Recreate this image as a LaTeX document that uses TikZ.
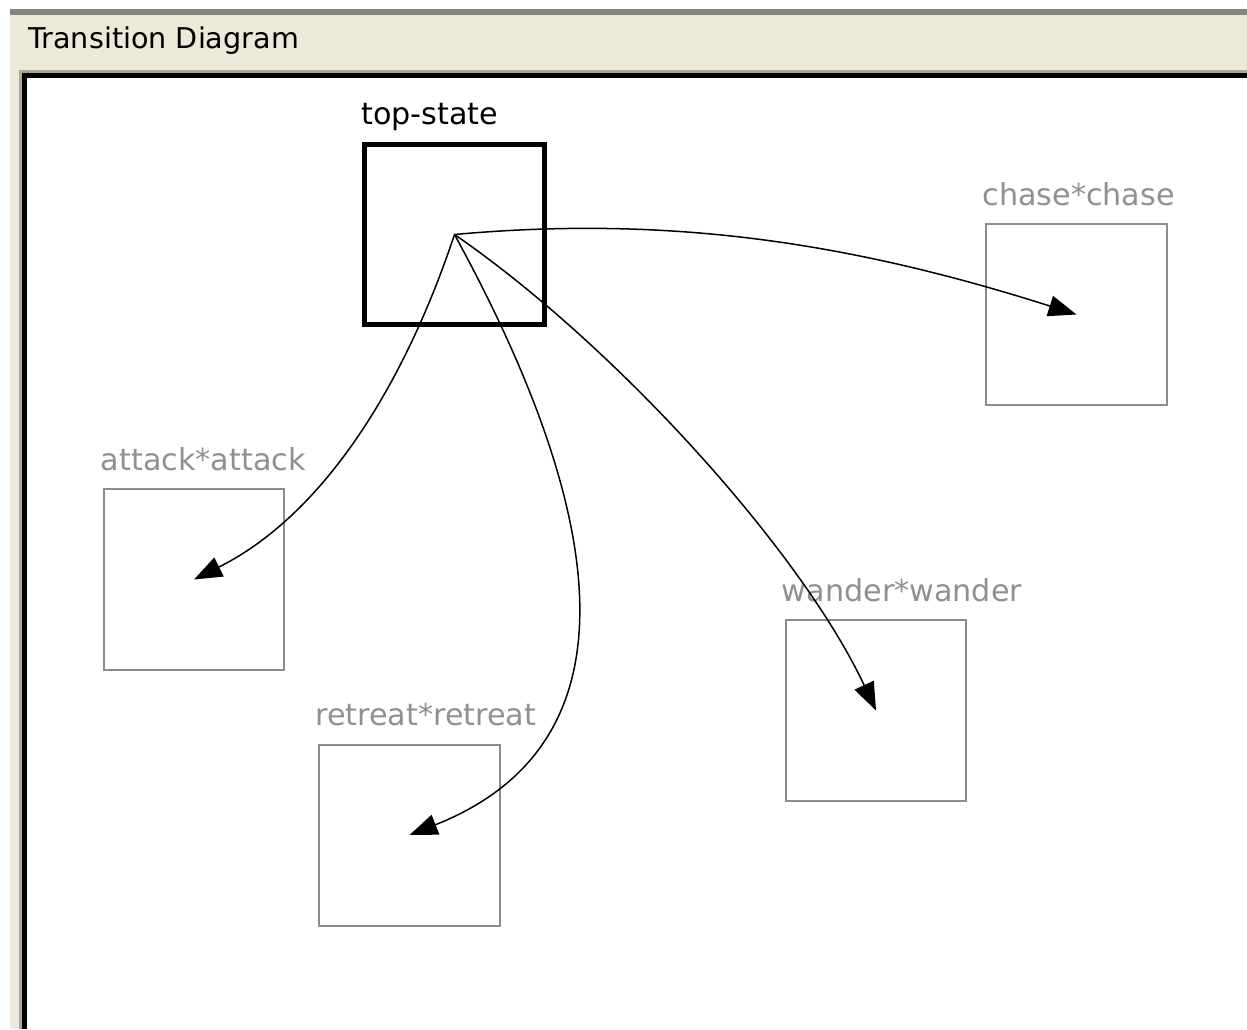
\documentclass[tikz,border=0pt]{standalone}
\usepackage{fontspec}
\setmainfont{DejaVu Sans}
\usetikzlibrary{arrows.meta}
\definecolor{winbg}{HTML}{ECE9D8}
\definecolor{winline}{HTML}{86847A}
\definecolor{winedge}{HTML}{ACA899}
\definecolor{stategrey}{HTML}{8C8C8C}
\definecolor{labelgrey}{HTML}{909090}

\begin{document}
\begin{tikzpicture}[
  x=0.02cm, y=-0.02cm,
  >={Triangle[length=0.56cm,width=0.42cm]},
  wintext/.style={font=\fontsize{16.3}{18}\selectfont,inner sep=0pt},
  lbltext/.style={font=\fontsize{17.2}{19}\selectfont,inner sep=0pt,anchor=base west},
  topbox/.style={draw=black,line width=0.1cm,minimum size=3.6cm,inner sep=0pt},
  statebox/.style={draw=stategrey,line width=0.04cm,minimum size=3.62cm,inner sep=0pt},
  statelbl/.style={lbltext,text=labelgrey},
  trans/.style={->,line width=0.03cm},
]
\useasboundingbox (0,0) rectangle (1247,1029);

% Window frame
\fill[winbg] (10,9) rectangle (1247,1029);
\fill[winline] (10,9) rectangle (1247,15);
\fill[winedge] (19,70) rectangle (1247,1029);
\fill[black] (22,73) rectangle (1247,1029);
\fill[white] (27,78) rectangle (1247,1029);
\node[wintext,anchor=base west] (title) at (28,48) {Transition Diagram};

% States
\node[topbox] (top) at (454.5,234.5) {};
\node[statebox] (chase) at (1076.5,314.5) {};
\node[statebox] (attack) at (194,579.5) {};
\node[statebox] (retreat) at (409.5,835) {};
\node[statebox] (wander) at (876,710.5) {};

% State names
\node[lbltext] (topL) at ([shift={(-1,-18)}]top.north west) {top-state};
\node[statelbl] (chaseL) at ([shift={(-3,-18)}]chase.north west) {chase*chase};
\node[statelbl] (attackL) at ([shift={(-2,-18)}]attack.north west) {attack*attack};
\node[statelbl] (retreatL) at ([shift={(-3,-18)}]retreat.north west) {retreat*retreat};
\node[statelbl] (wanderL) at ([shift={(-3,-18)}]wander.north west) {wander*wander};

% Transitions
\draw[trans] (top.center) .. controls +(220,-20) and +(-220,-70) .. (chase.center);
\draw[trans] (top.center) .. controls +(-50,150) and +(130,-65) .. (attack.center);
\draw[trans] (top.center) .. controls +(145,265) and +(240,-95) .. (retreat.center);
\draw[trans] (top.center) .. controls +(160,110) and +(-75,-160) .. (wander.center);

\end{tikzpicture}
\end{document}
